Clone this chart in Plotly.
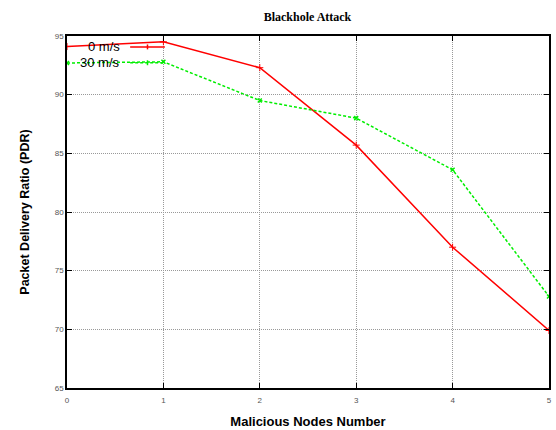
import plotly.graph_objects as go

nodes = [0, 1, 2, 3, 4, 5]
pdr_0ms = [94.1, 94.5, 92.3, 85.7, 77.0, 69.9]
pdr_30ms = [92.7, 92.8, 89.5, 88.0, 83.6, 72.8]
series_names = ["0 m/s", "30 m/s"]
x_ticks = [0, 1, 2, 3, 4, 5]
y_ticks = [65, 70, 75, 80, 85, 90, 95]

fig = go.Figure()
fig.add_trace(go.Scatter(x=nodes, y=pdr_0ms, mode="lines+markers", name=series_names[0],
                         line=dict(color="#ff0000", width=1.5),
                         marker=dict(symbol="cross-thin", size=5, line=dict(color="#ff0000", width=1)),
                         showlegend=False))
fig.add_trace(go.Scatter(x=nodes, y=pdr_30ms, mode="lines+markers", name=series_names[1],
                         line=dict(color="#00ee00", width=1.5, dash="3px,2px"),
                         marker=dict(symbol="x-thin", size=4, line=dict(color="#00ee00", width=1.5)),
                         showlegend=False))

# gnuplot-style legend (text then sample line)
legend_rows = [(0.969, "#ff0000", "solid"), (0.924, "#00ee00", "3px,2px")]
for name, (yp, col, dash) in zip(series_names, legend_rows):
    fig.add_annotation(x=0.114, y=yp, xref="paper", yref="paper", text=name, showarrow=False,
                       xanchor="right", yanchor="middle",
                       font=dict(family="Liberation Sans, Arial", size=13, color="#000"))
    fig.add_shape(type="line", xref="paper", yref="paper", x0=0.131, x1=0.203, y0=yp, y1=yp,
                  line=dict(color=col, width=1.5, dash=dash))
    fig.add_shape(type="line", xref="paper", yref="paper", x0=0.167, x1=0.167, y0=yp - 0.007, y1=yp + 0.007,
                  line=dict(color=col, width=1.5))

axis_common = dict(showline=True, linecolor="#000", linewidth=1.5, mirror="allticks",
                   ticks="inside", ticklen=5, tickcolor="#000", showgrid=True,
                   gridcolor="#999", griddash="1px,1px", gridwidth=1, zeroline=False,
                   automargin=False,
                   tickfont=dict(family="Liberation Sans, Arial", size=8, color="#555"))

fig.update_xaxes(range=[0, 5], tickvals=x_ticks, ticklabelstandoff=4,
                 title=dict(text="<b>Malicious Nodes Number</b>",
                 font=dict(family="Liberation Sans, Arial", size=13, color="#000"), standoff=13),
                 **axis_common)
fig.update_yaxes(range=[65, 95], tickvals=y_ticks, title=dict(text="<b>Packet Delivery Ratio (PDR)</b>",
                 font=dict(family="Liberation Sans, Arial", size=12.5, color="#000"), standoff=22),
                 **axis_common)

fig.update_layout(
    width=556, height=430,
    margin=dict(l=67, r=7, t=36, b=42),
    paper_bgcolor="white", plot_bgcolor="white",
    title=dict(text="<b>Blackhole Attack</b>", x=0.553, xanchor="center", y=0.96, yanchor="middle",
               font=dict(family="Liberation Serif, Times New Roman", size=12, color="#000")),
)

fig.write_html("out.html")
